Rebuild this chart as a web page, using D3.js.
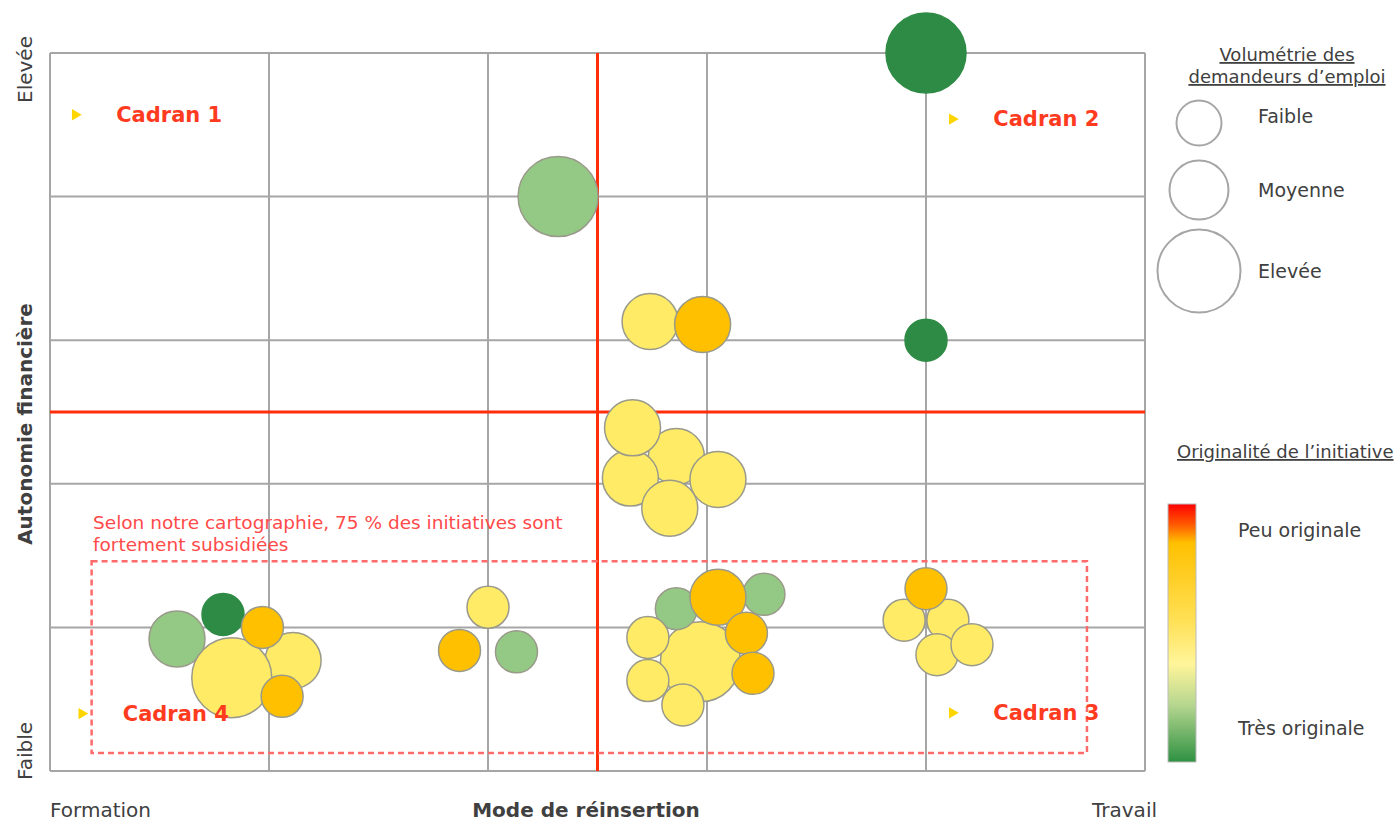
<!DOCTYPE html>
<html>
<head>
<meta charset="utf-8">
<script src="https://cdn.jsdelivr.net/npm/d3@7/dist/d3.min.js"></script>
<style>
  body { margin: 0; background: #fff; }
  text { font-family: "DejaVu Sans", sans-serif; fill: #404040; }
</style>
</head>
<body>
<svg width="1399" height="821"></svg>
<script>
// one entry per initiative, in drawing order
const modeValues =     [4.0, 2.32, 2.74, 2.98, 4.0, 2.86, 2.65, 3.05, 2.66, 2.83, 2.97, 2.86, 3.26, 3.05, 2.73, 3.18, 3.21, 2.73, 2.89, 0.58, 1.11, 0.83, 0.79, 0.97, 1.06, 2.0, 1.87, 2.13, 3.90, 4.10, 4.05, 4.21, 4.0]
const autonomyValues = [5.0, 4.0, 3.13, 3.11, 3.0, 2.19, 2.04, 2.03, 2.39, 1.83, 0.76, 1.13, 1.23, 1.21, 0.93, 0.96, 0.68, 0.63, 0.46, 0.92, 0.77, 0.65, 1.09, 1.0, 0.52, 1.14, 0.84, 0.83, 1.05, 1.05, 0.81, 0.88, 1.27]
const volumes = ["Elevée", "Elevée", "Moyenne", "Moyenne", "Faible", "Moyenne", "Moyenne", "Moyenne", "Moyenne", "Moyenne", "Elevée", "Faible", "Faible", "Moyenne", "Faible", "Faible", "Faible", "Faible", "Faible", "Moyenne", "Moyenne", "Elevée", "Faible", "Faible", "Faible", "Faible", "Faible", "Faible", "Faible", "Faible", "Faible", "Faible", "Faible"]
const originality = ["Très", "Originale", "Moyenne", "Peu", "Très", "Moyenne", "Moyenne", "Moyenne", "Moyenne", "Moyenne", "Moyenne", "Originale", "Originale", "Peu", "Moyenne", "Peu", "Peu", "Moyenne", "Moyenne", "Originale", "Moyenne", "Moyenne", "Très", "Peu", "Peu", "Moyenne", "Peu", "Originale", "Moyenne", "Moyenne", "Moyenne", "Moyenne", "Peu"]

const volumeLevels = ["Faible", "Moyenne", "Elevée"]
const originalityLevels = ["Peu", "Moyenne", "Originale", "Très"]
const cadranLabels = ["Cadran 1", "Cadran 2", "Cadran 3", "Cadran 4"]
const gridTicks = [0, 1, 2, 3, 4, 5]
const quadrantSplit = 2.5

const width = 1399,
  height = 821,
  plot = { left: 50, right: 1145, top: 53, bottom: 771 }

const svg = d3.select("svg")

const x = d3.scaleLinear().domain([0, 5]).range([plot.left, plot.right])
const y = d3.scaleLinear().domain([0, 5]).range([plot.bottom, plot.top])
const r = d3.scaleOrdinal().domain(volumeLevels).range([21, 28, 40])
const color = d3.scaleOrdinal().domain(originalityLevels).range(["#ffc000", "#ffeb66", "#93c985", "#2e8b45"])

const data = modeValues.map((m, i) => ({ mode: m, autonomy: autonomyValues[i], volume: volumes[i], orig: originality[i] }))

// grid
const grid = svg.append("g")
grid.selectAll(".vline")
  .data(gridTicks)
  .enter()
  .append("line")
  .attr("x1", d => x(d)).attr("x2", d => x(d))
  .attr("y1", plot.top).attr("y2", plot.bottom)
  .style("stroke", "#a6a6a6").style("stroke-width", 2)
grid.selectAll(".hline")
  .data(gridTicks)
  .enter()
  .append("line")
  .attr("x1", plot.left).attr("x2", plot.right)
  .attr("y1", d => y(d)).attr("y2", d => y(d))
  .style("stroke", "#a6a6a6").style("stroke-width", 2)

// quadrant split lines
svg.append("line")
  .attr("x1", x(quadrantSplit)).attr("x2", x(quadrantSplit))
  .attr("y1", plot.top).attr("y2", plot.bottom)
  .style("stroke", "#ff2d0a").style("stroke-width", 3)
svg.append("line")
  .attr("x1", plot.left).attr("x2", plot.right)
  .attr("y1", y(quadrantSplit)).attr("y2", y(quadrantSplit))
  .style("stroke", "#ff2d0a").style("stroke-width", 3)

// subsidised zone
svg.append("rect")
  .attr("x", x(0.19)).attr("y", y(1.46))
  .attr("width", x(4.735) - x(0.19)).attr("height", y(0.125) - y(1.46))
  .attr("fill", "none")
  .style("stroke", "#ff6b6b").style("stroke-width", 2.5)
  .style("stroke-dasharray", "6,4")

svg.append("text")
  .attr("x", 93).attr("y", 529)
  .style("fill", "#ff4a4a").style("font-size", "18.5px")
  .text("Selon notre cartographie, 75 % des initiatives sont")
svg.append("text")
  .attr("x", 93).attr("y", 551)
  .style("fill", "#ff4a4a").style("font-size", "18.5px")
  .text("fortement subsidiées")

// bubbles
svg.append("g").selectAll("circle")
  .data(data)
  .enter()
  .append("circle")
  .attr("cx", d => x(d.mode))
  .attr("cy", d => y(d.autonomy))
  .attr("r", d => r(d.volume))
  .attr("fill", d => color(d.orig))
  .style("stroke", d => d.orig === "Très" ? "#2e8b45" : "#9a9a8a")
  .style("stroke-width", 1.5)

// cadran labels, drawn over the bubbles
const cadranPos = [[0.115, 4.57], [4.12, 4.54], [4.12, 0.405], [0.145, 0.40]]
const cadrans = svg.selectAll(".cadran")
  .data(cadranLabels)
  .enter()
  .append("g")
  .attr("class", "cadran")
  .attr("transform", (d, i) => `translate(${x(cadranPos[i][0])},${y(cadranPos[i][1])})`)
cadrans.append("path")
  .attr("d", d3.symbol().type(d3.symbolTriangle).size(55))
  .attr("transform", "rotate(90)")
  .attr("fill", "#ffd500")
cadrans.append("text")
  .attr("x", 41).attr("dy", "0.35em")
  .style("fill", "#ff3b1f").style("font-size", "21px").style("font-weight", "bold")
  .text(d => d)

// axis labels
svg.append("text").attr("x", 50).attr("y", 817).style("font-size", "20px").text("Formation")
svg.append("text").attr("x", 586).attr("y", 817).attr("text-anchor", "middle")
  .style("font-size", "20px").style("font-weight", "bold").text("Mode de réinsertion")
svg.append("text").attr("x", 1157).attr("y", 817).attr("text-anchor", "end").style("font-size", "20px").text("Travail")

svg.append("text").attr("transform", "translate(32,103) rotate(-90)").style("font-size", "20px").text("Elevée")
svg.append("text").attr("transform", "translate(32,780) rotate(-90)").style("font-size", "20px").text("Faible")
svg.append("text").attr("transform", "translate(32,424) rotate(-90)").attr("text-anchor", "middle")
  .style("font-size", "20px").style("font-weight", "bold").text("Autonomie financière")

// size legend
const sizeLegend = svg.append("g")
sizeLegend.append("text").attr("x", 1287).attr("y", 61).attr("text-anchor", "middle")
  .style("font-size", "18px").style("text-decoration", "underline").text("Volumétrie des")
sizeLegend.append("text").attr("x", 1287).attr("y", 83).attr("text-anchor", "middle")
  .style("font-size", "18px").style("text-decoration", "underline").text("demandeurs d’emploi")
const legendY = [123, 190, 271]
const sizeItems = sizeLegend.selectAll(".size-item")
  .data(volumeLevels)
  .enter()
  .append("g")
  .attr("transform", (d, i) => `translate(1199,${legendY[i]})`)
sizeItems.append("circle")
  .attr("r", d => r(d) + 1.5)
  .attr("fill", "none")
  .style("stroke", "#a6a6a6").style("stroke-width", 2)
sizeItems.append("text")
  .attr("x", 59).attr("y", (d, i) => i === 0 ? -7 : 0).attr("dy", "0.35em")
  .style("font-size", "19px")
  .text(d => d)

// colour legend
const defs = svg.append("defs")
const grad = defs.append("linearGradient").attr("id", "origGrad")
  .attr("x1", 0).attr("x2", 0).attr("y1", 0).attr("y2", 1)
const gradStops = [[0, "#ff0000"], [0.08, "#ff5a00"], [0.15, "#ffc000"], [0.45, "#ffe055"], [0.62, "#fff59a"], [0.78, "#b5d68f"], [1, "#2e9142"]]
grad.selectAll("stop")
  .data(gradStops)
  .enter()
  .append("stop")
  .attr("offset", d => d[0])
  .attr("stop-color", d => d[1])

svg.append("text").attr("x", 1177).attr("y", 458)
  .style("font-size", "18px").style("text-decoration", "underline").text("Originalité de l’initiative")
svg.append("rect")
  .attr("x", 1168).attr("y", 504).attr("width", 28).attr("height", 258)
  .attr("fill", "url(#origGrad)")
  .style("stroke", "#bbb").style("stroke-width", 1)
svg.append("text").attr("x", 1238).attr("y", 530).attr("dy", "0.35em").style("font-size", "19px").text("Peu originale")
svg.append("text").attr("x", 1238).attr("y", 728).attr("dy", "0.35em").style("font-size", "19px").text("Très originale")
</script>
</body>
</html>
